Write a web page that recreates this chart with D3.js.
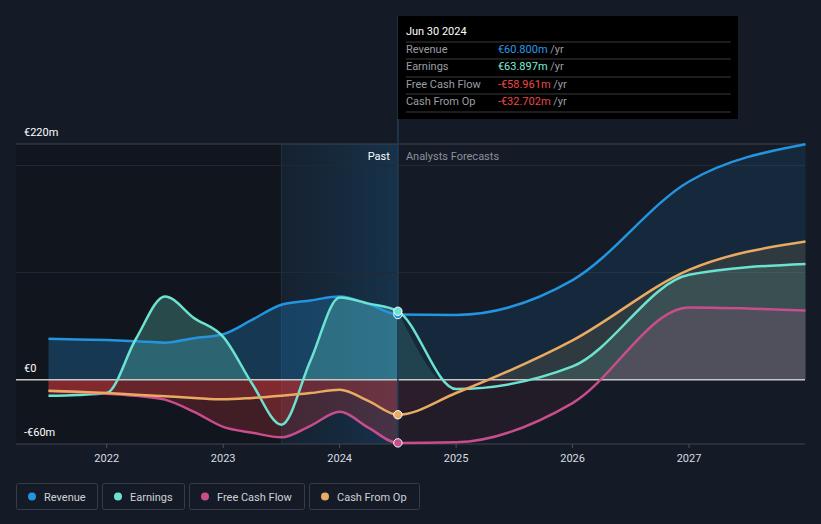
<!DOCTYPE html>
<html>
<head>
<meta charset="utf-8">
<script src="https://cdn.jsdelivr.net/npm/d3@7"></script>
<style>
  html, body { margin: 0; padding: 0; background: #151b26; }
  svg { display: block; font-family: Roboto, "Noto Sans", sans-serif; }
</style>
</head>
<body>
<svg id="chart" width="821" height="524"></svg>
<script>
// ---- data ----
const seriesNames = ["Revenue", "Earnings", "Free Cash Flow", "Cash From Op"];
const seriesColors = ["#2394df", "#6ce3d0", "#c84d8c", "#e9ab62"];

const pastDates = [2021.5, 2021.75, 2022.0, 2022.25, 2022.5, 2022.75, 2023.0, 2023.25, 2023.5, 2023.75, 2024.0, 2024.25, 2024.5];
const revenuePast  = [38.2, 37.5, 37.0, 36.0, 34.6, 38.8, 42.5, 56.0, 70.0, 74.0, 77.7, 70.5, 60.8];
const earningsPast = [-15.0, -14.2, -12.4, 38.0, 77.7, 57.5, 40.0, -4.0, -42.0, 18.0, 76.8, 71.0, 63.897];
const fcfPast      = [-10.5, -11.8, -13.0, -15.0, -18.6, -30.0, -44.0, -49.5, -53.8, -43.0, -30.0, -45.0, -58.961];
const cfoPast      = [-10.3, -11.3, -12.4, -14.0, -15.5, -17.0, -18.3, -17.0, -15.0, -12.5, -9.3, -20.0, -32.702];

const forecastDates = [2024.5, 2025.0, 2026.0, 2027.0, 2028.0];
const revenueForecast  = [60.8, 60.5, 93.0, 185.0, 219.7];
const earningsForecast = [63.897, -8.7, 12.4, 97.9, 108.1];
const fcfForecast      = [-58.961, -58.4, -21.8, 67.4, 64.6];
const cfoForecast      = [-32.702, -12.4, 36.7, 102.5, 128.9];

const yearTicks = [2022, 2023, 2024, 2025, 2026, 2027];
const gridValues = [200, 100];
const yLabels = [{v: 220, t: "€220m"}, {v: 0, t: "€0"}, {v: -60, t: "-€60m"}];

const tooltipTitle = "Jun 30 2024";
const tooltipValues = ["€60.800m", "€63.897m", "-€58.961m", "-€32.702m"];
const tooltipColors = ["#2b9be8", "#7cefd9", "#f0464a", "#f0464a"];

const highlightStart = 2023.5;
const nowDate = 2024.5;

// ---- build ----
const svg = d3.select("#chart");
const W = 821, H = 524;
const plotLeft = 16, plotRight = 805, plotTop = 144, plotBottom = 444;

const x = d3.scaleLinear().domain([2021.5, 2028.0]).range([48.5, 805.5]);
const y = d3.scaleLinear().domain([-60, 220]).range([plotBottom, plotTop]);

const defs = svg.append("defs");

svg.append("rect").attr("width", W).attr("height", H).attr("fill", "#151b26");

// darker past region
svg.append("rect")
  .attr("x", plotLeft).attr("y", plotTop)
  .attr("width", x(highlightStart) - plotLeft).attr("height", plotBottom - plotTop)
  .attr("fill", "#11151d");

// highlight gradient region
const hg = defs.append("linearGradient").attr("id", "hl").attr("x1", 0).attr("x2", 1).attr("y1", 0).attr("y2", 0);
hg.append("stop").attr("offset", "0%").attr("stop-color", "#1a5a8a").attr("stop-opacity", 0.1);
hg.append("stop").attr("offset", "100%").attr("stop-color", "#1a6aa0").attr("stop-opacity", 0.3);
svg.append("rect")
  .attr("x", x(highlightStart)).attr("y", plotTop)
  .attr("width", x(nowDate) - x(highlightStart)).attr("height", plotBottom - plotTop)
  .attr("fill", "url(#hl)");
svg.append("line")
  .attr("x1", x(highlightStart)).attr("x2", x(highlightStart))
  .attr("y1", plotTop).attr("y2", plotBottom)
  .attr("stroke", "#1b3142").attr("stroke-width", 1);

// grid lines
svg.selectAll(".grid").data(gridValues).enter().append("line")
  .attr("x1", plotLeft).attr("x2", plotRight)
  .attr("y1", d => y(d)).attr("y2", d => y(d))
  .attr("stroke", "#232a35").attr("stroke-width", 1);
svg.append("line").attr("x1", plotLeft).attr("x2", plotRight)
  .attr("y1", y(220)).attr("y2", y(220)).attr("stroke", "#3e4550").attr("stroke-width", 1);
svg.append("line").attr("x1", plotLeft).attr("x2", plotRight)
  .attr("y1", y(-60)).attr("y2", y(-60)).attr("stroke", "#3e4550").attr("stroke-width", 1);

// clips
defs.append("clipPath").attr("id", "pastAbove").append("rect")
  .attr("x", 0).attr("y", 0).attr("width", x(nowDate)).attr("height", y(0));
defs.append("clipPath").attr("id", "pastBelow").append("rect")
  .attr("x", 0).attr("y", y(0)).attr("width", x(nowDate)).attr("height", H - y(0));
defs.append("clipPath").attr("id", "futAbove").append("rect")
  .attr("x", x(nowDate)).attr("y", 0).attr("width", W).attr("height", y(0));
defs.append("clipPath").attr("id", "futBelow").append("rect")
  .attr("x", x(nowDate)).attr("y", y(0)).attr("width", W).attr("height", H - y(0));

const pastSeries = [revenuePast, earningsPast, fcfPast, cfoPast];
const futSeries = [revenueForecast, earningsForecast, fcfForecast, cfoForecast];
const series = seriesNames.map((name, i) => ({
  name, color: seriesColors[i],
  past: pastDates.map((d, j) => ({d, v: pastSeries[i][j]})),
  fut: forecastDates.map((d, j) => ({d, v: futSeries[i][j]}))
}));

const area = d3.area().x(p => x(p.d)).y0(y(0)).y1(p => y(p.v)).curve(d3.curveMonotoneX);
const line = d3.line().x(p => x(p.d)).y(p => y(p.v)).curve(d3.curveMonotoneX);

const pastAboveOp = [0.28, 0.26, 0.18, 0.15];
const futAboveOp = [0.12, 0.14, 0.16, 0.12];

series.forEach((s, i) => {
  svg.append("path").attr("d", area(s.past)).attr("fill", s.color)
    .attr("fill-opacity", pastAboveOp[i]).attr("clip-path", "url(#pastAbove)");
  svg.append("path").attr("d", area(s.past)).attr("fill", "#dc3a3e")
    .attr("fill-opacity", 0.24).attr("clip-path", "url(#pastBelow)");
  svg.append("path").attr("d", area(s.fut)).attr("fill", s.color)
    .attr("fill-opacity", futAboveOp[i]).attr("clip-path", "url(#futAbove)");
  svg.append("path").attr("d", area(s.fut)).attr("fill", "#c03040")
    .attr("fill-opacity", 0.07).attr("clip-path", "url(#futBelow)");
});

// zero line
svg.append("line").attr("x1", plotLeft).attr("x2", plotRight)
  .attr("y1", y(0)).attr("y2", y(0)).attr("stroke", "#c8c8c8").attr("stroke-width", 1.5);

// lines
series.forEach(s => {
  svg.append("path").attr("d", line(s.past.concat(s.fut.slice(1))))
    .attr("fill", "none").attr("stroke", s.color).attr("stroke-width", 2.5);
});

// now line
svg.append("line").attr("x1", x(nowDate)).attr("x2", x(nowDate))
  .attr("y1", 16).attr("y2", plotBottom)
  .attr("stroke", "#1f3d55").attr("stroke-width", 1.5);

// markers
series.forEach(s => {
  const p = s.past[s.past.length - 1];
  svg.append("circle").attr("cx", x(p.d)).attr("cy", y(p.v)).attr("r", 4.2)
    .attr("fill", s.color).attr("stroke", "#ffffff").attr("stroke-width", 1);
});

// x axis ticks
const xAxis = svg.append("g").attr("transform", `translate(0,${plotBottom})`);
xAxis.selectAll("line").data(yearTicks).enter().append("line")
  .attr("x1", d => x(d)).attr("x2", d => x(d)).attr("y1", 0).attr("y2", 4)
  .attr("stroke", "#4a515c");
xAxis.selectAll("text").data(yearTicks).enter().append("text")
  .attr("x", d => x(d)).attr("y", 17.5).attr("text-anchor", "middle")
  .attr("fill", "#d8dbe0").attr("font-size", 11).text(d => d);

// y labels
svg.selectAll(".ylab").data(yLabels).enter().append("text")
  .attr("x", 24).attr("y", d => y(d.v) - 8).attr("fill", "#ffffff")
  .attr("font-size", 11).text(d => d.t);

// Past / Forecast labels
svg.append("text").attr("x", x(nowDate) - 8).attr("y", 160).attr("text-anchor", "end")
  .attr("fill", "#ffffff").attr("font-size", 11).text("Past");
svg.append("text").attr("x", x(nowDate) + 8).attr("y", 160)
  .attr("fill", "#8b9099").attr("font-size", 11).text("Analysts Forecasts");

// tooltip
const tt = svg.append("g").attr("transform", `translate(${x(nowDate)},16)`);
tt.append("rect").attr("width", 340).attr("height", 103).attr("fill", "#000000");
tt.append("text").attr("x", 8).attr("y", 19).attr("fill", "#ffffff").attr("font-size", 11)
  .text(tooltipTitle);
const rowY = [37, 54, 72, 89];
[26, 43, 61, 78, 96].forEach(ly => {
  tt.append("line").attr("x1", 8).attr("x2", 333).attr("y1", ly).attr("y2", ly)
    .attr("stroke", "#3a3a3a").attr("stroke-width", 1);
});
seriesNames.forEach((n, i) => {
  tt.append("text").attr("x", 8).attr("y", rowY[i]).attr("fill", "#9a9ea5")
    .attr("font-size", 11).text(n);
  const t = tt.append("text").attr("x", 100).attr("y", rowY[i]).attr("font-size", 11);
  t.append("tspan").attr("fill", tooltipColors[i]).text(tooltipValues[i]);
  t.append("tspan").attr("fill", "#9a9ea5").text(" /yr");
});

// legend
const legendX = [16, 102, 189, 309];
const legendW = [81, 82, 115, 110];
const lg = svg.append("g").attr("transform", "translate(0,483)");
seriesNames.forEach((n, i) => {
  const g = lg.append("g").attr("transform", `translate(${legendX[i]},0)`);
  g.append("rect").attr("x", 0.5).attr("y", 0.5).attr("width", legendW[i]).attr("height", 26)
    .attr("rx", 2).attr("fill", "none").attr("stroke", "#363c48");
  g.append("circle").attr("cx", 16).attr("cy", 13.5).attr("r", 4).attr("fill", seriesColors[i]);
  g.append("text").attr("x", 28).attr("y", 17.5).attr("fill", "#cfd2d6").attr("font-size", 11).text(n);
});
</script>
</body>
</html>
